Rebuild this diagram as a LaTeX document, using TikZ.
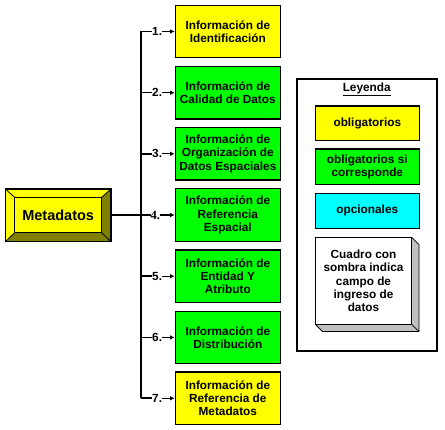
\documentclass[tikz,border=0pt]{standalone}
\usepackage{fontspec}
\setmainfont{Liberation Sans}
\newfontfamily\serifnum{Liberation Serif}
\usetikzlibrary{arrows.meta,calc}
\definecolor{cyel}{HTML}{FFFF00}
\definecolor{cgrn}{HTML}{00FF00}
\definecolor{ccyan}{HTML}{00FFFF}
\definecolor{colive}{HTML}{808000}
\definecolor{cgrey}{HTML}{C0C0C0}
\tikzset{
  infobox/.style={draw=black,line width=1.2pt,minimum width=105pt,minimum height=52.5pt,inner sep=1pt,align=center,
    font=\fontsize{11.8}{13.3}\selectfont\bfseries},
  legbox/.style={draw=black,line width=1.2pt,minimum width=104pt,inner sep=1pt,align=center,
    font=\fontsize{11.8}{13.3}\selectfont\bfseries},
  numlabel/.style={anchor=west,inner sep=0pt,font=\fontsize{11.8}{13.3}\selectfont\bfseries},
  trunkline/.style={line width=1.6pt},
  arrowline/.style={line width=1.2pt,-{Latex[length=4.5pt,width=4.5pt]}},
}
\begin{document}
\begin{tikzpicture}[x=1pt,y=-1pt]
\useasboundingbox (0,0) rectangle (445,430);
\fill[white] (0,0) rectangle (445,430);

% right boxes
\node[infobox,fill=cyel] (b1) at (227.8,31.5) {Información de\\Identificación};
\node[infobox,fill=cgrn] (b2) at (227.8,92.7) {Información de\\Calidad de Datos};
\node[infobox,fill=cgrn] (b3) at (227.8,153.8) {Información de\\Organización de\\Datos Espaciales};
\node[infobox,fill=cgrn] (b4) at (227.8,215) {Información de\\Referencia\\Espacial};
\node[infobox,fill=cgrn] (b5) at (227.8,276.2) {Información de\\Entidad Y\\Atributo};
\node[infobox,fill=cgrn] (b6) at (227.8,337.4) {Información de\\Distribución};
\node[infobox,fill=cyel] (b7) at (227.8,398.3) {Información de\\Referencia de\\Metadatos};

% Metadatos bevel box
\fill[cyel] (5.3,189) rectangle (111,241.7);
\fill[colive] (5.3,241.7) -- (111,241.7) -- (101.7,232.7) -- (14.7,232.7) -- cycle;
\fill[colive] (111,189) -- (111,241.7) -- (101.7,232.7) -- (101.7,197.3) -- cycle;
\draw[line width=0.8pt] (5.3,189) -- (14.7,197.3) (111,189) -- (101.7,197.3)
  (5.3,241.7) -- (14.7,232.7) (111,241.7) -- (101.7,232.7);
\draw[line width=1.2pt] (5.3,189) rectangle (111,241.7);
\node[draw=black,line width=1pt,minimum width=87pt,minimum height=35.4pt,inner sep=0pt,
  font=\fontsize{14.5}{16}\selectfont\bfseries] (meta) at (58.2,215) {Metadatos};
\coordinate (metaR) at (111,215);

% trunk
\coordinate (t1) at (140.7,31.5);
\coordinate (t2) at (140.7,92.7);
\coordinate (t3) at (140.7,153.8);
\coordinate (t4) at (140.7,215);
\coordinate (t5) at (140.7,276.2);
\coordinate (t6) at (140.7,337.4);
\coordinate (t7) at (140.7,398.3);
\draw[trunkline] (t1) -- (t7);
\draw[trunkline] (metaR) -- (t4);

\foreach \i/\yy in {1/31.5,2/92.7,3/153.8,5/276.2,6/337.4,7/398.3}{
  \node[numlabel] (n\i) at (152,\yy) {\i.};
  \draw[trunkline] (t\i) -- (n\i.west);
  \draw[arrowline] (n\i.east) -- (b\i.west);
}
\node[numlabel,font=\fontsize{12.5}{13.3}\selectfont\bfseries\serifnum] (n4) at (150.5,215) {4.};
\draw[trunkline] (t4) -- (n4.west);
\draw[arrowline] (n4.east) -- (b4.west);

% legend
\draw[line width=2pt] (296.7,79) rectangle (436.7,350.7);
\node[font=\fontsize{11.8}{13.3}\selectfont\bfseries] (leg) at (366.7,89.5) {\underline{Leyenda}};
\node[legbox,fill=cyel,minimum height=34.7pt] (l1) at (367.3,123.3) {obligatorios};
\node[legbox,fill=cgrn,minimum height=35.3pt] (l2) at (367.3,166.7) {obligatorios si\\corresponde};
\node[legbox,fill=ccyan,minimum height=35pt] (l3) at (367.3,210.8) {opcionales};
% shadow box
\fill[cgrey] (411.7,237.3) -- (419,244.6) -- (419,331.6) -- (411.7,324.3) -- cycle;
\fill[cgrey] (315.3,324.3) -- (322.6,331.6) -- (419,331.6) -- (411.7,324.3) -- cycle;
\draw[line width=0.8pt] (411.7,237.3) -- (419,244.6) -- (419,331.6) -- (322.6,331.6) -- (315.3,324.3)
  (419,331.6) -- (411.7,324.3);
\node[draw=black,line width=0.8pt,fill=white,minimum width=96.4pt,minimum height=87pt,inner sep=1pt,align=center,
  font=\fontsize{11.8}{13.3}\selectfont\bfseries] (l4) at (363.5,280.8) {Cuadro con\\sombra indica\\campo de\\ingreso de\\datos};
\end{tikzpicture}
\end{document}
